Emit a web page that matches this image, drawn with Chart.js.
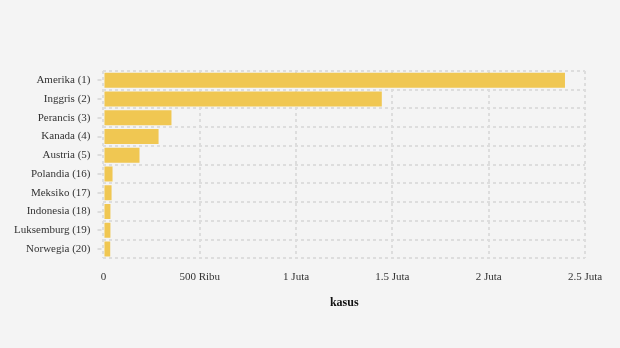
<!DOCTYPE html>
<html>
<head>
<meta charset="utf-8">
<script src="https://cdn.jsdelivr.net/npm/chart.js@4"></script>
<style>
  html, body { margin: 0; padding: 0; background: #f4f4f4; }
  #wrap { width: 620px; height: 348px; }
</style>
</head>
<body>
<div id="wrap"><canvas id="myChart"></canvas></div>
<script>
const countries = ["Amerika (1)", "Inggris (2)", "Perancis (3)", "Kanada (4)", "Austria (5)",
  "Polandia (16)", "Meksiko (17)", "Indonesia (18)", "Luksemburg (19)", "Norwegia (20)"];
const cases = [2396000, 1445000, 353000, 286000, 187000, 47000, 42000, 36000, 36000, 35000];
const tickValues = [0, 500000, 1000000, 1500000, 2000000, 2500000];
const tickLabels = ["0", "500 Ribu", "1 Juta", "1.5 Juta", "2 Juta", "2.5 Juta"];

document.addEventListener("DOMContentLoaded", () => {
  const font = { family: "'Liberation Serif', 'DejaVu Serif', serif", size: 11 };

  // small tick marks at the centre of each category
  const yTicks = {
    id: "yTicks",
    afterDraw(chart) {
      const y = chart.scales.y;
      const ctx = chart.ctx;
      ctx.save();
      ctx.strokeStyle = "#dcdcdc";
      ctx.lineWidth = 2;
      y.ticks.forEach((t, i) => {
        const py = Math.round(y.getPixelForTick(i));
        ctx.beginPath();
        ctx.moveTo(y.right - 6, py);
        ctx.lineTo(y.right - 2, py);
        ctx.stroke();
      });
      ctx.restore();
    },
  };

  new Chart(document.getElementById("myChart"), {
    type: "bar",
    data: {
      labels: countries,
      datasets: [{
        label: "kasus",
        data: cases,
        backgroundColor: "#f0c752",
        borderWidth: 0,
        barPercentage: 1,
        categoryPercentage: 0.8,
      }],
    },
    options: {
      indexAxis: "y",
      responsive: true,
      maintainAspectRatio: false,
      animation: false,
      layout: { padding: { top: 71, right: 35, bottom: 34, left: 1 } },
      plugins: { legend: { display: false }, tooltip: { enabled: false } },
      scales: {
        x: {
          min: 0,
          max: 2500000,
          afterBuildTicks: (scale) => { scale.ticks = tickValues.map((v) => ({ value: v })); },
          ticks: {
            font: font,
            color: "#333",
            padding: 12,
            maxRotation: 0,
            callback: (v) => tickLabels[tickValues.indexOf(v)],
          },
          grid: { color: "#dddddd", lineWidth: 2, drawTicks: false },
          border: { display: false, dash: [3, 3] },
          title: {
            display: true,
            text: "kasus",
            color: "#111",
            font: { family: font.family, size: 12, weight: "bold" },
            padding: { top: 0 },
          },
        },
        y: {
          ticks: { font: font, color: "#333", padding: 13 },
          grid: { color: "#dddddd", lineWidth: 2, drawTicks: false, offset: true },
          border: { display: false, dash: [3, 3] },
        },
      },
    },
    plugins: [yTicks],
  });
});
</script>
</body>
</html>
